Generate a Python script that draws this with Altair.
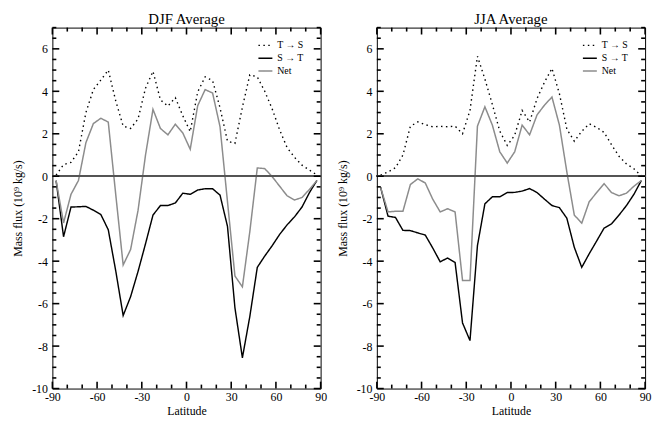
import altair as alt
import pandas as pd

# Latitude bin centres (degrees)
lat = [-87.5, -82.5, -77.5, -72.5, -67.5, -62.5, -57.5, -52.5, -47.5, -42.5,
       -37.5, -32.5, -27.5, -22.5, -17.5, -12.5, -7.5, -2.5, 2.5, 7.5,
       12.5, 17.5, 22.5, 27.5, 32.5, 37.5, 42.5, 47.5, 52.5, 57.5,
       62.5, 67.5, 72.5, 77.5, 82.5, 87.5]

# DJF (10^9 kg/s)
djf_ts = [0.05, 0.55, 0.65, 1.15, 3.0, 4.08, 4.53, 5.0, 3.55, 2.36,
          2.25, 2.7, 4.15, 4.94, 3.6, 3.3, 3.7, 2.85, 2.1, 3.97,
          4.68, 4.5, 3.22, 1.65, 1.55, 3.25, 4.78, 4.68, 4.0, 3.17,
          2.18, 1.35, 0.89, 0.52, 0.29, 0.06]
djf_st = [-0.21, -2.85, -1.45, -1.44, -1.42, -1.6, -1.8, -2.52, -4.45, -6.56,
          -5.67, -4.48, -3.18, -1.83, -1.38, -1.38, -1.26, -0.8, -0.85, -0.65,
          -0.59, -0.59, -0.89, -2.36, -6.2, -8.55, -6.6, -4.29, -3.76, -3.27,
          -2.74, -2.29, -1.91, -1.45, -0.77, -0.2]
djf_net = [-0.21, -2.2, -0.85, -0.2, 1.58, 2.48, 2.73, 2.55, -0.85, -4.18,
           -3.45, -1.6, 1.0, 3.15, 2.25, 1.95, 2.45, 2.04, 1.27, 3.32,
           4.08, 3.92, 2.33, -1.2, -4.7, -5.21, -2.6, 0.39, 0.36, -0.02,
           -0.47, -0.92, -1.12, -1.0, -0.62, -0.2]

# JJA (10^9 kg/s)
jja_ts = [0.05, 0.2, 0.4, 1.0, 2.35, 2.56, 2.43, 2.33, 2.35, 2.33,
          2.36, 2.0, 3.1, 5.65, 4.58, 3.38, 2.12, 1.45, 1.93, 3.1,
          2.55, 3.66, 4.43, 5.08, 3.89, 2.22, 1.65, 2.12, 2.47, 2.3,
          2.06, 1.48, 0.94, 0.58, 0.35, 0.02]
jja_st = [-0.52, -1.88, -1.94, -2.55, -2.56, -2.67, -2.77, -3.38, -4.03, -3.85,
          -4.06, -6.91, -7.74, -3.27, -1.3, -0.97, -0.97, -0.77, -0.76, -0.7,
          -0.58, -0.77, -1.08, -1.38, -1.48, -1.98, -3.35, -4.29, -3.65, -3.05,
          -2.44, -2.24, -1.83, -1.38, -0.85, -0.2]
jja_net = [-0.52, -1.68, -1.65, -1.65, -0.39, -0.12, -0.32, -1.08, -1.68, -1.53,
           -1.68, -4.91, -4.91, 2.36, 3.27, 2.41, 1.15, 0.62, 1.15, 2.41,
           1.95, 2.89, 3.35, 3.73, 2.41, 0.2, -1.83, -2.21, -1.2, -0.77,
           -0.35, -0.77, -0.92, -0.8, -0.47, -0.2]

series_names = ["T \u2192 S", "S \u2192 T", "Net"]
x_major = [-90, -60, -30, 0, 30, 60, 90]
x_minor = [-80, -70, -50, -40, -20, -10, 10, 20, 40, 50, 70, 80]
y_major = [-10, -8, -6, -4, -2, 0, 2, 4, 6]
y_minor = [-9.5, -9, -8.5, -7.5, -7, -6.5, -5.5, -5, -4.5, -3.5, -3, -2.5,
           -1.5, -1, -0.5, 0.5, 1, 1.5, 2.5, 3, 3.5, 4.5, 5, 5.5, 6.5, 7]

W, H = 272, 366
FONT = "Liberation Serif"
MAJ, MIN = 7, 4


def panel(title, ts, st, net):
    n = len(lat)
    df = pd.DataFrame({
        "lat": lat * 3,
        "flux": ts + st + net,
        "series": [series_names[0]] * n + [series_names[1]] * n + [series_names[2]] * n,
    })
    legend = alt.Legend(title=None, orient="none", legendX=208, legendY=10,
                        symbolType="stroke", symbolSize=200, labelFont=FONT,
                        labelFontSize=10, labelColor="black", rowPadding=-3,
                        labelOffset=4)
    x = alt.X("lat:Q", title="Latitude",
              scale=alt.Scale(domain=[-90, 90], nice=False, zero=False),
              axis=alt.Axis(values=x_major, ticks=False, domain=False, grid=False,
                            labelExpr="toString(datum.value)",
                            labelOverlap=False, labelFlush=False, labelPadding=3,
                            titlePadding=3))
    y = alt.Y("flux:Q", title="Mass flux (10\u2079 kg/s)",
              scale=alt.Scale(domain=[-10, 7], nice=False, zero=False),
              axis=alt.Axis(values=y_major, ticks=False, domain=False, grid=False,
                            labelExpr="toString(datum.value)",
                            labelOverlap=False, labelFlush=False, labelPadding=5,
                            titlePadding=7))
    lines = alt.Chart(df).mark_line().encode(
        x=x, y=y,
        color=alt.Color("series:N", scale=alt.Scale(domain=series_names,
                                                    range=["black", "black", "#8c8c8c"]),
                        legend=legend),
        strokeDash=alt.StrokeDash("series:N", scale=alt.Scale(domain=series_names,
                                                              range=[[1.5, 3.5], [1, 0], [1, 0]]),
                                  legend=legend),
        strokeWidth=alt.StrokeWidth("series:N", scale=alt.Scale(domain=series_names,
                                                                range=[1.4, 1.5, 1.1]),
                                    legend=legend),
    )
    zero = alt.Chart(df).mark_rule(color="#555555", strokeWidth=1.5).encode(y=alt.datum(0))

    layers = [lines, zero]
    # inward tick marks on all four sides of the frame
    for vals, size in ((x_major, MAJ), (x_minor, MIN)):
        tdf = pd.DataFrame({"lat": vals})
        for y0, y1 in ((H, H - size), (0, size)):
            layers.append(alt.Chart(tdf).mark_rule(color="#000000", strokeWidth=1.6).encode(
                x=x, y=alt.value(y0), y2=alt.value(y1)))
    for vals, size in ((y_major, MAJ), (y_minor, MIN)):
        tdf = pd.DataFrame({"flux": vals})
        for x0, x1 in ((0, size), (W, W - size)):
            layers.append(alt.Chart(tdf).mark_rule(color="#000000", strokeWidth=1.6).encode(
                y=y, x=alt.value(x0), x2=alt.value(x1)))

    return alt.layer(*layers).properties(
        width=W, height=H,
        title=alt.TitleParams(title, font=FONT, fontSize=15, fontWeight="normal",
                              anchor="middle", frame="group", offset=0, color="black"))


left = panel("DJF Average", djf_ts, djf_st, djf_net)
right = panel("JJA Average", jja_ts, jja_st, jja_net)

chart = alt.hconcat(left, right, spacing=8).resolve_scale(
    color="independent", strokeDash="independent", strokeWidth="independent"
).configure(
    padding={"left": 3, "top": 0, "right": 0, "bottom": 0},
    background="white",
).configure_view(
    stroke="black", strokeWidth=1
).configure_axis(
    labelFont=FONT, labelFontSize=12, labelColor="black",
    titleFont=FONT, titleFontSize=12, titleFontWeight="normal", titleColor="black",
)

chart.save("out.html", embed_options={"renderer": "svg", "actions": False})
